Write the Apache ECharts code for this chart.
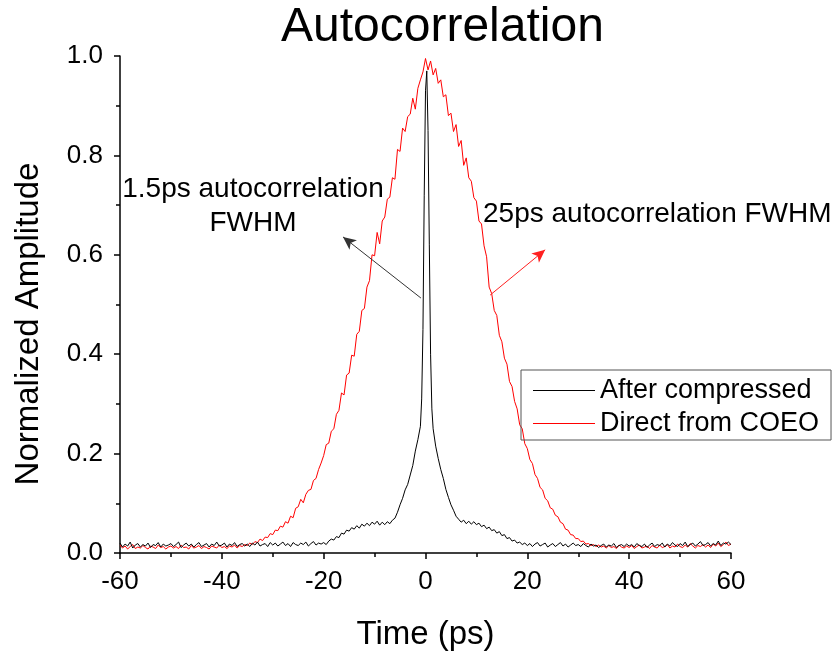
<!DOCTYPE html>
<html>
<head>
<meta charset="utf-8">
<style>
  html, body { margin: 0; padding: 0; background: #fff; }
  #chart { width: 840px; height: 658px; }
</style>
<script src="https://cdn.jsdelivr.net/npm/echarts@6/dist/echarts.min.js"></script>
</head>
<body>
<div id="chart"></div>
<script>
// Delay axis: samples every 0.5 ps from -60 ps to 60 ps
const timeStart = -60;
const timeStep = 0.5;
const sampleCount = 241;

// Pulse train straight from the COEO (normalized)
const directValues = [
  0.016,0.010,0.014,0.008,0.013,0.017,0.009,0.012,0.010,0.015,
  0.011,0.008,0.014,0.012,0.009,0.016,0.011,0.013,0.008,0.012,
  0.014,0.010,0.013,0.009,0.016,0.011,0.012,0.008,0.015,0.010,
  0.012,0.015,0.009,0.013,0.011,0.008,0.014,0.012,0.010,0.016,
  0.011,0.013,0.009,0.014,0.012,0.016,0.010,0.015,0.013,0.017,
  0.015,0.020,0.017,0.023,0.021,0.028,0.025,0.032,0.031,0.039,
  0.037,0.046,0.045,0.054,0.052,0.063,0.060,0.074,0.071,0.090,
  0.093,0.108,0.101,0.118,0.126,0.128,0.146,0.150,0.168,0.181,
  0.196,0.218,0.221,0.245,0.250,0.279,0.287,0.322,0.318,0.358,
  0.362,0.398,0.396,0.440,0.446,0.488,0.492,0.535,0.548,0.600,
  0.598,0.645,0.622,0.668,0.676,0.712,0.716,0.755,0.752,0.812,
  0.808,0.855,0.848,0.878,0.883,0.915,0.893,0.935,0.952,0.968,
  0.995,0.972,0.990,0.962,0.975,0.945,0.952,0.918,0.922,0.880,
  0.885,0.848,0.862,0.818,0.830,0.780,0.795,0.755,0.748,0.715,
  0.708,0.668,0.662,0.618,0.596,0.535,0.522,0.488,0.478,0.438,
  0.425,0.392,0.380,0.345,0.335,0.305,0.290,0.258,0.250,0.220,
  0.210,0.188,0.180,0.158,0.150,0.132,0.127,0.110,0.105,0.091,
  0.088,0.076,0.073,0.062,0.059,0.048,0.046,0.037,0.036,0.029,
  0.029,0.023,0.024,0.018,0.019,0.015,0.017,0.013,0.016,0.012,
  0.014,0.010,0.015,0.011,0.013,0.009,0.016,0.012,0.010,0.014,
  0.011,0.015,0.009,0.013,0.016,0.010,0.012,0.014,0.009,0.015,
  0.012,0.010,0.016,0.011,0.013,0.017,0.010,0.014,0.012,0.018,
  0.013,0.011,0.016,0.012,0.019,0.014,0.010,0.015,0.013,0.017,
  0.012,0.016,0.011,0.018,0.014,0.020,0.013,0.017,0.022,0.015,
  0.018
];

// Pulse after compression (normalized), same delay grid
const compressedValues = [
  0.020,0.012,0.018,0.014,0.022,0.010,0.016,0.019,0.012,0.017,
  0.014,0.020,0.011,0.017,0.015,0.021,0.012,0.018,0.014,0.016,
  0.019,0.013,0.017,0.022,0.011,0.016,0.020,0.014,0.018,0.012,
  0.017,0.021,0.013,0.016,0.019,0.012,0.018,0.015,0.022,0.014,
  0.016,0.020,0.012,0.018,0.015,0.021,0.013,0.017,0.019,0.014,
  0.018,0.013,0.020,0.016,0.022,0.014,0.017,0.019,0.013,0.021,
  0.016,0.020,0.014,0.018,0.022,0.015,0.019,0.013,0.021,0.017,
  0.015,0.020,0.017,0.022,0.014,0.019,0.023,0.016,0.020,0.018,
  0.021,0.017,0.024,0.028,0.026,0.033,0.031,0.040,0.038,0.046,
  0.044,0.051,0.048,0.055,0.050,0.058,0.054,0.060,0.055,0.062,
  0.058,0.064,0.056,0.062,0.057,0.063,0.059,0.066,0.070,0.082,
  0.097,0.110,0.127,0.138,0.157,0.176,0.205,0.228,0.255,0.450,
  0.930,0.850,0.400,0.250,0.215,0.190,0.168,0.150,0.128,0.112,
  0.097,0.086,0.074,0.068,0.062,0.066,0.059,0.064,0.058,0.063,
  0.057,0.060,0.053,0.056,0.049,0.052,0.045,0.047,0.040,0.043,
  0.035,0.037,0.029,0.031,0.024,0.026,0.020,0.022,0.017,0.020,
  0.015,0.019,0.013,0.018,0.021,0.014,0.017,0.020,0.012,0.016,
  0.019,0.013,0.017,0.021,0.014,0.018,0.012,0.016,0.020,0.015,
  0.017,0.013,0.019,0.015,0.012,0.018,0.014,0.016,0.011,0.015,
  0.018,0.012,0.016,0.014,0.019,0.011,0.015,0.017,0.013,0.018,
  0.014,0.017,0.012,0.019,0.015,0.013,0.018,0.011,0.016,0.020,
  0.013,0.017,0.015,0.020,0.012,0.018,0.014,0.021,0.016,0.013,
  0.019,0.015,0.022,0.013,0.017,0.020,0.014,0.018,0.023,0.015,
  0.017,0.021,0.014,0.019,0.016,0.024,0.015,0.020,0.018,0.022,
  0.017
];

// Extra samples resolving the narrow compressed peak
const peakTime = [-0.75, -0.25, 0.25, 0.75, 1.25];
const peakValue = [0.31, 0.72, 0.97, 0.62, 0.29];

const seriesNames = ['After compressed', 'Direct from COEO'];
const xTicks = { min: -60, max: 60, interval: 20 };
const yTicks = { min: 0, max: 1, interval: 0.2 };

// Annotation arrows in data units: [start, end]
const compressedArrow = [[-0.9, 0.513], [-16.2, 0.636]];
const directArrow = [[12.7, 0.519], [23.5, 0.61]];

const times = [];
for (let i = 0; i < sampleCount; i++) times.push(timeStart + i * timeStep);

const directData = times.map((t, i) => [t, directValues[i]]);
const compressedData = times.map((t, i) => [t, compressedValues[i]])
  .concat(peakTime.map((t, i) => [t, peakValue[i]]))
  .sort((a, b) => a[0] - b[0]);

const FONT = '"Liberation Sans", Arial, sans-serif';

function arrowLine(pts, color) {
  return {
    silent: true,
    symbol: ['none', 'arrow'],
    symbolSize: [9, 13],
    label: { show: false },
    lineStyle: { color: color, width: 1, type: 'solid' },
    emphasis: { disabled: true },
    data: [[{ coord: pts[0] }, { coord: pts[1] }]]
  };
}

const chart = echarts.init(document.getElementById('chart'), null, { renderer: 'canvas' });

chart.setOption({
  animation: false,
  backgroundColor: '#ffffff',
  textStyle: { fontFamily: FONT },
  grid: { left: 120, right: 109, top: 56, bottom: 105, containLabel: false },
  legend: {
    data: seriesNames,
    orient: 'vertical',
    left: 521,
    top: 370,
    icon: 'rect',
    itemWidth: 62,
    itemHeight: 1.2,
    itemGap: 0,
    itemTextGap: 16,
    padding: [4, 12, 0, 12],
    borderColor: '#555',
    borderWidth: 1,
    selectedMode: false,
    textStyle: { fontFamily: FONT, fontSize: 27, color: '#000', lineHeight: 33 }
  },
  graphic: [
    {
      type: 'text', left: 281, top: 4, silent: true,
      style: { text: 'Autocorrelation', font: '48px ' + FONT, fill: '#000' }
    },
    {
      type: 'text', x: 29, y: 324, rotation: Math.PI / 2, silent: true,
      style: { text: 'Normalized Amplitude', font: '33px ' + FONT, fill: '#000', align: 'center', verticalAlign: 'middle' }
    },
    {
      type: 'text', x: 253, y: 189, silent: true,
      style: { text: '1.5ps autocorrelation', font: '28px ' + FONT, fill: '#000', align: 'center', verticalAlign: 'middle' }
    },
    {
      type: 'text', x: 253, y: 223, silent: true,
      style: { text: 'FWHM', font: '28px ' + FONT, fill: '#000', align: 'center', verticalAlign: 'middle' }
    },
    {
      type: 'text', x: 483, y: 214, silent: true,
      style: { text: '25ps autocorrelation FWHM', font: '28px ' + FONT, fill: '#000', align: 'left', verticalAlign: 'middle' }
    }
  ],
  xAxis: {
    type: 'value',
    min: xTicks.min, max: xTicks.max, interval: xTicks.interval,
    name: 'Time (ps)',
    nameLocation: 'middle',
    nameGap: 65,
    nameTextStyle: { fontFamily: FONT, fontSize: 33, color: '#000' },
    axisLine: { show: true, onZero: false, lineStyle: { color: '#000', width: 1.5 } },
    axisTick: { show: true, inside: false, length: 6, lineStyle: { color: '#000', width: 1.5 } },
    minorTick: { show: true, splitNumber: 2, length: 4, lineStyle: { color: '#000', width: 1.5 } },
    axisLabel: { fontFamily: FONT, fontSize: 26, color: '#000', margin: 16 },
    splitLine: { show: false }
  },
  yAxis: {
    type: 'value',
    min: yTicks.min, max: yTicks.max, interval: yTicks.interval,
    axisLine: { show: true, onZero: false, lineStyle: { color: '#000', width: 1.5 } },
    axisTick: { show: true, inside: false, length: 6, lineStyle: { color: '#000', width: 1.5 } },
    minorTick: { show: true, splitNumber: 2, length: 4, lineStyle: { color: '#000', width: 1.5 } },
    axisLabel: { fontFamily: FONT, fontSize: 26, color: '#000', margin: 17, formatter: v => v.toFixed(1) },
    splitLine: { show: false }
  },
  series: [
    {
      name: seriesNames[0],
      type: 'line',
      data: compressedData,
      showSymbol: false,
      z: 3,
      color: '#000000',
      lineStyle: { color: '#000000', width: 1 },
      emphasis: { disabled: true },
      markLine: arrowLine(compressedArrow, '#333333')
    },
    {
      name: seriesNames[1],
      type: 'line',
      data: directData,
      showSymbol: false,
      z: 2,
      color: '#ff0000',
      lineStyle: { color: '#ff0000', width: 1 },
      emphasis: { disabled: true },
      markLine: arrowLine(directArrow, '#ff2020')
    }
  ]
});
</script>
</body>
</html>
